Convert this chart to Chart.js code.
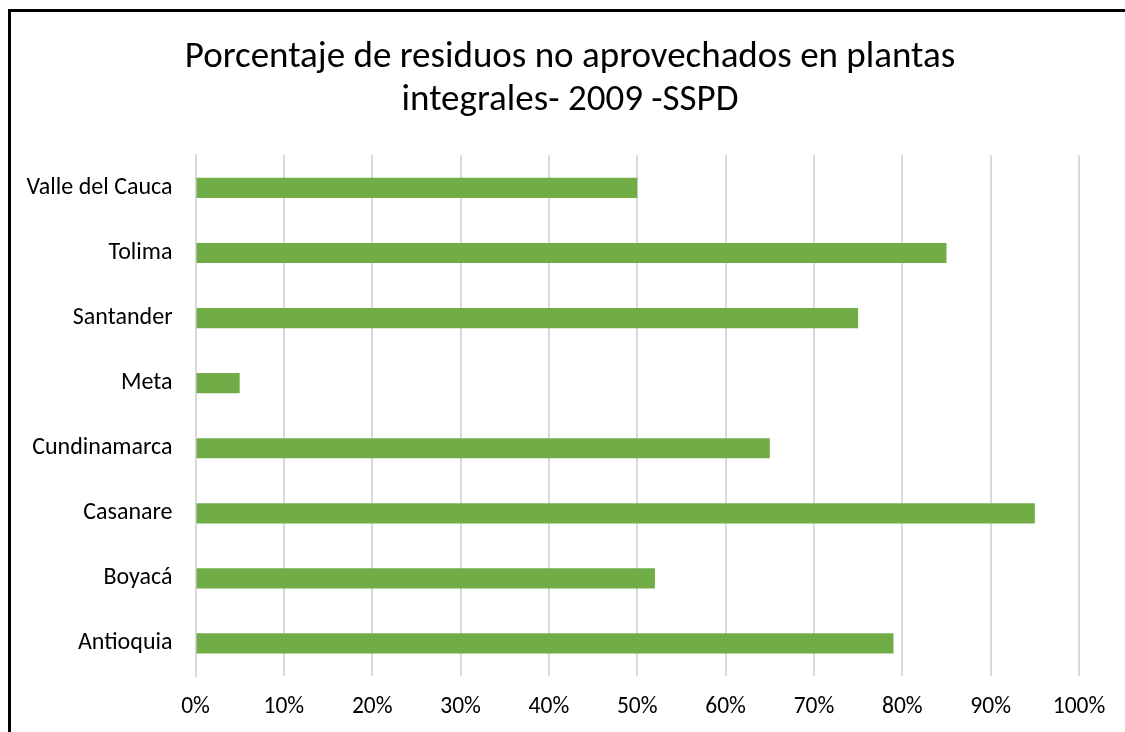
<!DOCTYPE html>
<html>
<head>
<meta charset="utf-8">
<script src="https://cdn.jsdelivr.net/npm/chart.js@4"></script>
<style>
  html, body { margin: 0; padding: 0; background: #fff; overflow: hidden; }
  body { width: 1125px; height: 732px; position: relative; }
  .frame { position: absolute; left: 8px; top: 9px; width: 1200px; height: 800px; border: 3px solid #000; box-sizing: border-box; }
  .chart__wrapp { position: absolute; left: 0; top: 0; width: 1140px; height: 732px; }
</style>
</head>
<body>
<div class="frame"></div>
<div class="chart__wrapp"><canvas id="grafic" width="1140" height="732"></canvas></div>
<script>
// data
var departamentos = ["Valle del Cauca", "Tolima", "Santander", "Meta", "Cundinamarca", "Casanare", "Boyacá", "Antioquia"];
var porcentajes = [50, 85, 75, 5, 65, 95, 52, 79];
var titulo = ["Porcentaje de residuos no aprovechados en plantas", "integrales- 2009 -SSPD"];

var fuente = "Carlito, Calibri, Lato, sans-serif";

// title centred on the whole frame, not only on the plot
var titleShift = {
    id: 'titleShift',
    afterLayout: function(chart) {
        if (chart.titleBlock) {
            chart.titleBlock.left = 61;
            chart.titleBlock.right = 1079;
        }
    }
};

var ctx = document.getElementById('grafic');
var myChart = new Chart(ctx, {
    type: 'bar',
    data: {
        labels: departamentos,
        datasets: [{
            label: "Porcentaje",
            data: porcentajes,
            backgroundColor: '#70AD47',
            borderWidth: 0,
            categoryPercentage: 0.31,
            barPercentage: 1
        }]
    },
    options: {
        indexAxis: 'y',
        responsive: false,
        animation: false,
        devicePixelRatio: 1,
        layout: { padding: { left: 0, right: 61, top: 0, bottom: 0 } },
        plugins: {
            legend: { display: false },
            tooltip: { enabled: false },
            title: {
                display: true,
                text: titulo,
                color: '#000',
                font: { family: fuente, size: 37, weight: 'normal', lineHeight: 1.14 },
                padding: { top: 37, bottom: 34 }
            }
        },
        scales: {
            x: {
                min: 0,
                max: 100,
                ticks: {
                    stepSize: 10,
                    color: '#000',
                    padding: 17,
                    font: { family: fuente, size: 23.5 },
                    callback: function(v) { return v + '%'; }
                },
                grid: { color: '#d9d9d9', lineWidth: 2, drawTicks: false },
                border: { display: false },
                afterFit: function(scale) { scale.height = 56; }
            },
            y: {
                ticks: {
                    color: '#000',
                    padding: 23,
                    font: { family: fuente, size: 24 }
                },
                grid: { display: false, drawTicks: false },
                border: { display: true, color: '#d9d9d9', width: 2 },
                afterFit: function(scale) { scale.width = 195.5; }
            }
        }
    },
    plugins: [titleShift]
});
</script>
</body>
</html>
